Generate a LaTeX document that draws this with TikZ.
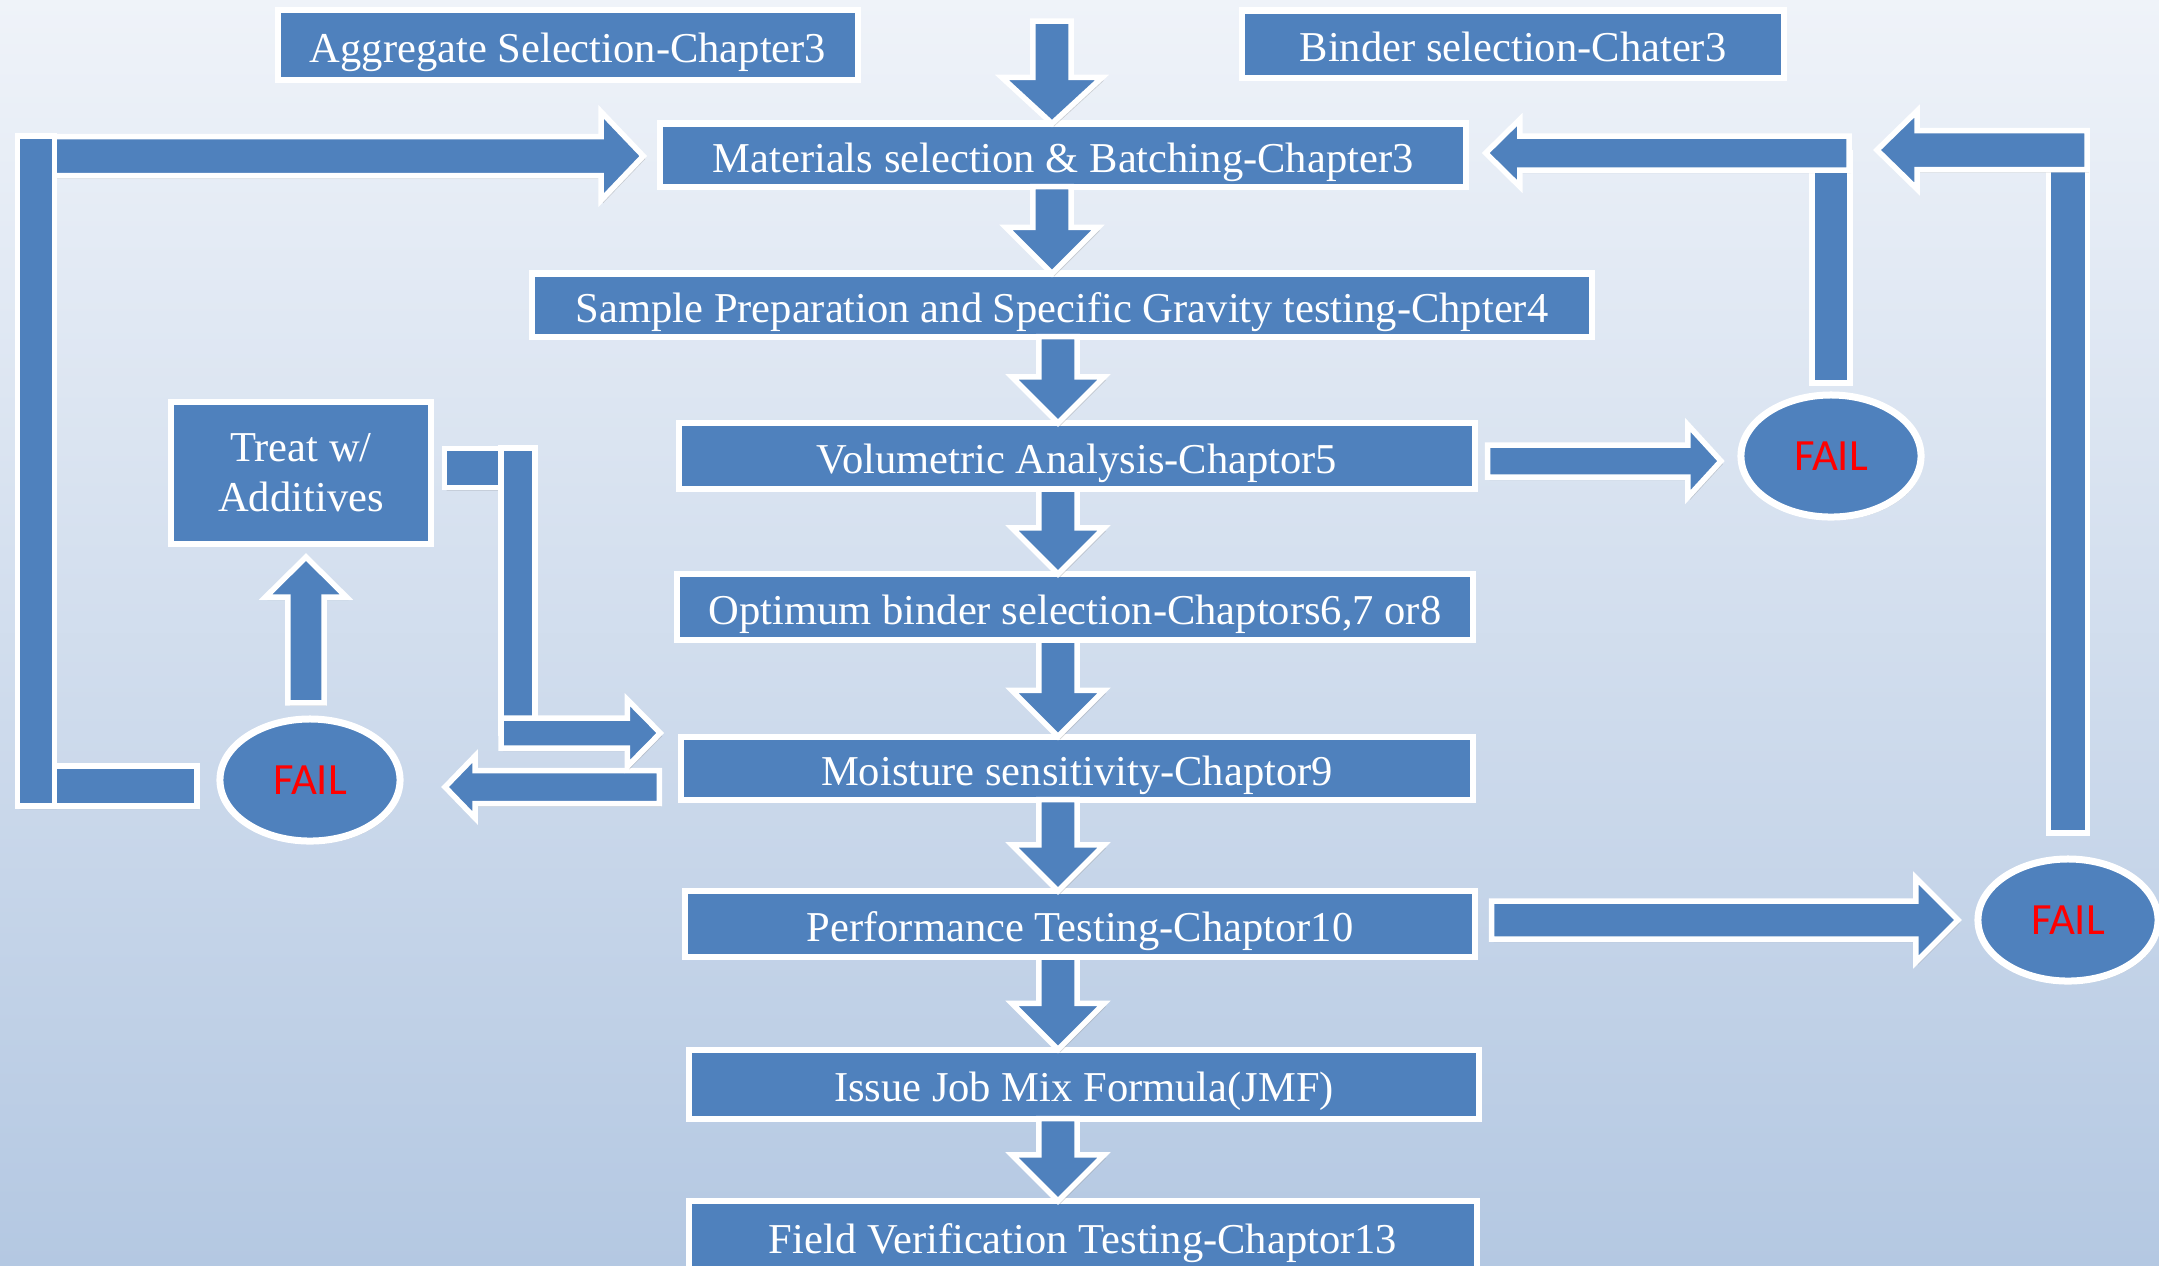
\documentclass[tikz,border=0pt]{standalone}
\usepackage{fontspec}
\setmainfont{Liberation Serif}
\newfontfamily\failfont{Carlito}
\usetikzlibrary{calc,shapes,shadows}

\definecolor{boxblue}{RGB}{79,129,189}
\definecolor{bgtop}{RGB}{239,243,249}
\definecolor{bgbot}{RGB}{180,200,226}
\definecolor{failred}{RGB}{255,0,0}

\begin{document}
\begin{tikzpicture}[x=0.01cm,y=-0.01cm,line join=miter]
  \tikzset{
    bshaft/.store in=\bsw, bhead/.store in=\bhw, blen/.store in=\bhl,
    bshaft=.19cm, bhead=.46cm, blen=.46cm,
    boxshadow/.style={drop shadow={shadow xshift=.02cm,shadow yshift=-.03cm,opacity=.3}},
    boxbase/.style={rectangle,fill=boxblue,draw=white,line width=.06cm,text=white,
      inner sep=0pt,outer sep=0pt,font=\fontsize{12.1}{14.2}\selectfont,boxshadow},
    stepbox/.style={boxbase,text height=10.3pt,text depth=.3pt},
    failnode/.style={ellipse,fill=boxblue,draw=white,line width=.07cm,text=failred,
      inner sep=0pt,outer sep=0pt,minimum width=1.8cm,minimum height=1.22cm,
      font=\failfont\fontsize{12.7}{15}\selectfont,boxshadow},
    blockbar/.style={fill=boxblue,draw=white,line width=.055cm,boxshadow,
      to path={let \p1=(\tikztostart), \p2=(\tikztotarget),
        \n1={atan2(\y2-\y1,\x2-\x1)}, \n2={veclen(\x2-\x1,\y2-\y1)} in
        (\p1) -- ++({\n1+90}:\bsw) -- ++(\n1:{\n2+0pt}) -- ++({\n1-90}:{2*\bsw})
        -- ++({\n1+180}:{\n2+0pt}) -- cycle}},
    blockarrow/.style={fill=boxblue,draw=white,line width=.055cm,boxshadow,
      to path={let \p1=(\tikztostart), \p2=(\tikztotarget),
        \n1={atan2(\y2-\y1,\x2-\x1)}, \n2={veclen(\x2-\x1,\y2-\y1)} in
        (\p1) -- ++({\n1+90}:\bsw) -- ++(\n1:{\n2-\bhl}) -- ++({\n1+90}:{\bhw-\bsw})
        -- (\p2) -- ($(\p2)+({\n1+180}:\bhl)+({\n1-90}:\bhw)$)
        -- ++({\n1+90}:{\bhw-\bsw}) -- ++({\n1+180}:{\n2-\bhl}) -- cycle}},
    downarrow/.style={blockarrow,bshaft=.19cm,bhead=.46cm,blen=.46cm}
  }
  \useasboundingbox (0,0) rectangle (2159,1265);
  \shade[top color=bgtop,bottom color=bgbot] (0,0) rectangle (2159,1265);
  \clip (0,0) rectangle (2159,1265);

  \node[stepbox,minimum width=5.8cm,minimum height=.7cm]    (agg)    at (568,45)   {Aggregate Selection-Chapter3};
  \node[stepbox,minimum width=5.42cm,minimum height=.67cm]  (binder) at (1513,44)  {Binder selection-Chater3};
  \node[stepbox,minimum width=8.05cm,minimum height=.63cm]  (mat)    at (1063,155) {Materials selection \& Batching-Chapter3};
  \node[stepbox,minimum width=10.59cm,minimum height=.63cm] (samp)   at (1062,305) {Sample Preparation and Specific Gravity testing-Chpter4};
  \node[stepbox,minimum width=7.95cm,minimum height=.66cm]  (vol)    at (1077,456) {Volumetric Analysis-Chaptor5};
  \node[stepbox,minimum width=7.95cm,minimum height=.66cm]  (opt)    at (1075,607) {Optimum binder selection-Chaptors6,7 or8};
  \node[stepbox,minimum width=7.91cm,minimum height=.63cm]  (moist)  at (1077,768) {Moisture sensitivity-Chaptor9};
  \node[stepbox,minimum width=7.89cm,minimum height=.66cm]  (perf)   at (1080,924) {Performance Testing-Chaptor10};
  \node[stepbox,minimum width=7.9cm,minimum height=.69cm]   (jmf)    at (1084,1084) {Issue Job Mix Formula(JMF)};
  \node[stepbox,minimum width=7.88cm,minimum height=.7cm]   (field)  at (1083,1236) {Field Verification Testing-Chaptor13};
  \node[boxbase,minimum width=2.59cm,minimum height=1.42cm,align=center] (treat) at (301,473) {Treat w/\\Additives};
  \node[failnode] (failL) at (310,780)  {FAIL};
  \node[failnode] (fail1) at (1831,456) {FAIL};
  \node[failnode] (fail2) at (2068,920) {FAIL};

  % main line
  \coordinate (in)    at (1052,21);
  \coordinate (spine) at (1058,0);
  \draw[downarrow,bhead=.5cm] (in) to (in |- mat.north);
  \draw[downarrow] (mat.south -| in) to (samp.north -| in);
  \draw[downarrow] (samp.south -| spine) to (vol.north -| spine);
  \draw[downarrow] (vol.south -| spine) to (opt.north -| spine);
  \draw[downarrow] (opt.south -| spine) to (moist.north -| spine);
  \draw[downarrow] (moist.south -| spine) to (perf.north -| spine);
  \draw[downarrow] (perf.south -| spine) to (jmf.north -| spine);
  \draw[downarrow] (jmf.south -| spine) to (field.north -| spine);

  % volumetric fail
  \coordinate (ret1)  at (1849,153);
  \coordinate (ret1a) at ($(fail1.west)+(-20,5)$);
  \coordinate (ret1b) at ($(mat.east |- ret1)+(20,0)$);
  \draw[blockarrow,bshaft=.16cm,bhead=.36cm,blen=.33cm] ($(vol.east)+(13,5)$) to (ret1a);
  \draw[blockbar,bshaft=.19cm] ($(fail1.north)+(0,-12)$) to (fail1.north |- ret1);
  \draw[blockarrow,bshaft=.17cm,bhead=.335cm,blen=.34cm] (ret1) to (ret1b);

  % performance fail
  \coordinate (ret2)  at (2087,150);
  \coordinate (ret2a) at ($(fail2.west)+(-20,0)$);
  \coordinate (ret2b) at ($(ret1 |- ret2)+(28,0)$);
  \draw[blockarrow,bshaft=.19cm,bhead=.42cm,blen=.42cm] ($(perf.east |- fail2.west)+(17,0)$) to (ret2a);
  \draw[blockbar,bshaft=.195cm] ($(fail2.north)+(0,-26)$) to (fail2.north |- ret2);
  \draw[blockarrow,bshaft=.195cm,bhead=.39cm,blen=.4cm] (ret2) to (ret2b);

  % moisture fail
  \coordinate (ret3)  at (36,786);
  \coordinate (ret4)  at (36,156);
  \coordinate (ret3a) at ($(failL.east |- moist.west)+(45,19)$);
  \coordinate (ret3b) at ($(ret3)+(-17,0)$);
  \coordinate (ret4a) at ($(mat.west |- ret4)+(-17,0)$);
  \coordinate (ret4b) at ($(ret4)+(0,-20)$);
  \draw[blockarrow,bshaft=.165cm,bhead=.31cm,blen=.3cm] ($(moist.west)+(-22,19)$) to (ret3a);
  \draw[blockbar,bshaft=.2cm] ($(failL.west)+(-23,6)$) to (ret3b);
  \draw[blockarrow,bshaft=.195cm,bhead=.44cm,blen=.42cm] (ret4) to (ret4a);
  \draw[blockbar,bshaft=.185cm] ($(ret3)+(0,20)$) to (ret4b);

  % treatment loop
  \coordinate (ret5)  at (518,468);
  \coordinate (ret6)  at (518,733);
  \coordinate (ret5a) at ($(failL.north |- treat.south)+(-4,13)$);
  \coordinate (ret6a) at ($(moist.west |- ret6)+(-21,0)$);
  \draw[blockarrow,bshaft=.18cm,bhead=.405cm,blen=.4cm] ($(failL.north)+(-4,-16)$) to (ret5a);
  \draw[blockbar,bshaft=.195cm] ($(treat.east |- ret5)+(14,0)$) to (ret5);
  \draw[blockbar,bshaft=.17cm] ($(ret5)+(0,-20)$) to (ret6);
  \draw[blockarrow,bshaft=.15cm,bhead=.335cm,blen=.33cm] ($(ret6)+(-17,0)$) to (ret6a);
\end{tikzpicture}
\end{document}
